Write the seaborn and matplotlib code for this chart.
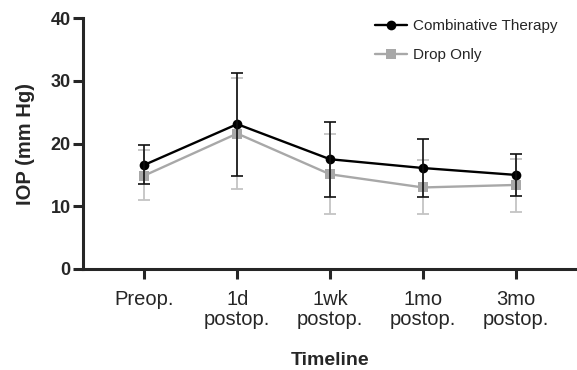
import matplotlib
matplotlib.use("Agg")
import matplotlib.pyplot as plt
import seaborn as sns
import pandas as pd

# IOP over follow-up, mean with error bars
timepoints = ['Preop.', '1d\npostop.', '1wk\npostop.', '1mo\npostop.', '3mo\npostop.']
combo_mean = [16.6, 23.1, 17.5, 16.1, 15.0]
combo_low = [13.5, 14.9, 11.5, 11.5, 11.7]
combo_high = [19.7, 31.3, 23.4, 20.7, 18.3]
drop_mean = [14.9, 21.6, 15.1, 13.0, 13.4]
drop_low = [11.0, 12.7, 8.7, 8.7, 9.1]
drop_high = [18.9, 30.5, 21.5, 17.4, 17.6]

sns.set_style('ticks')
plt.rcParams['font.family'] = ['Liberation Sans', 'DejaVu Sans']

fig = plt.figure(figsize=(5.77, 3.70), dpi=100)
ax = fig.add_axes([0.144, 0.273, 0.856, 0.678])

pos = list(range(len(timepoints)))
df = pd.DataFrame({
    'x': pos * 2,
    'IOP': combo_mean + drop_mean,
    'group': ['Combinative Therapy'] * 5 + ['Drop Only'] * 5,
})

# error bars first, drop only below the combinative series
ax.errorbar(pos, drop_mean,
            yerr=[[m - l for m, l in zip(drop_mean, drop_low)],
                  [h - m for m, h in zip(drop_mean, drop_high)]],
            fmt='none', ecolor='#c4c4c4', elinewidth=1.3, capsize=4.5, capthick=1.3, zorder=2)
ax.errorbar(pos, combo_mean,
            yerr=[[m - l for m, l in zip(combo_mean, combo_low)],
                  [h - m for m, h in zip(combo_mean, combo_high)]],
            fmt='none', ecolor='#111111', elinewidth=1.2, capsize=4.5, capthick=1.2, zorder=4)

sns.lineplot(data=df, x='x', y='IOP', hue='group', style='group',
             palette={'Combinative Therapy': 'black', 'Drop Only': '#a8a8a8'},
             markers={'Combinative Therapy': 'o', 'Drop Only': 's'},
             dashes=False, markersize=7, markeredgewidth=0, linewidth=1.7,
             hue_order=['Drop Only', 'Combinative Therapy'], ax=ax, zorder=3)

ax.set_xlim(-0.66, 4.66)
ax.set_ylim(0, 40)
ax.set_yticks([0, 10, 20, 30, 40])
ax.set_xticks(pos)
ax.set_xticklabels(timepoints, fontsize=14.5, linespacing=1.05)
for lab in ax.get_yticklabels():
    lab.set_fontweight('bold')
    lab.set_fontsize(13)

ax.set_ylabel('IOP (mm Hg)', fontsize=14.5, fontweight='bold', labelpad=11)
ax.set_xlabel('Timeline', fontsize=14, fontweight='bold', labelpad=17)

for side in ['top', 'right']:
    ax.spines[side].set_visible(False)
for side in ['left', 'bottom']:
    ax.spines[side].set_linewidth(2.2)
ax.tick_params(axis='both', width=2.2, length=7, direction='out')
ax.tick_params(axis='x', pad=8)
ax.tick_params(axis='y', pad=2)

handles, labels = ax.get_legend_handles_labels()
order = [labels.index('Combinative Therapy'), labels.index('Drop Only')]
ax.legend([handles[i] for i in order], [labels[i] for i in order],
          loc='upper right', bbox_to_anchor=(0.988, 1.05), frameon=False,
          fontsize=11, handlelength=2.1, handletextpad=0.4, labelspacing=0.95)

fig.savefig('out.png', dpi=100)
